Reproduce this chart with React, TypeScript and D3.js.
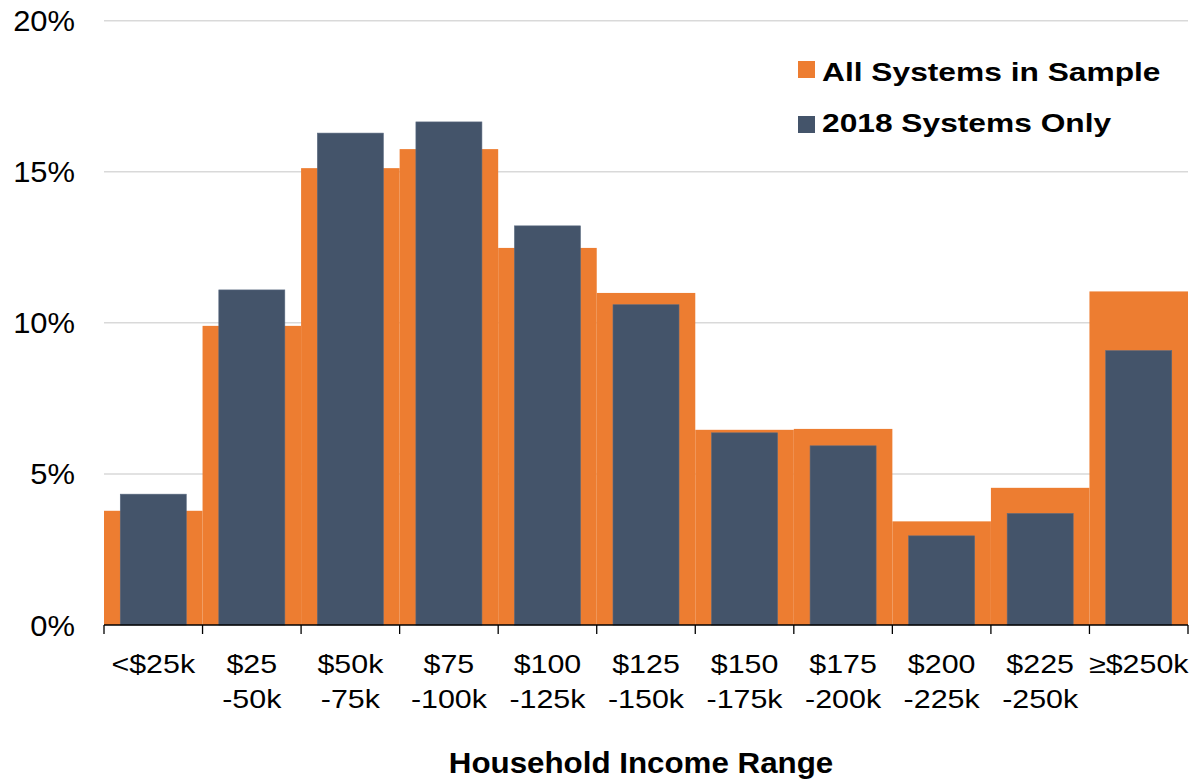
import React from "react";
import * as d3 from "d3";

const categories = [
  ["<$25k"],
  ["$25", "-50k"],
  ["$50k", "-75k"],
  ["$75", "-100k"],
  ["$100", "-125k"],
  ["$125", "-150k"],
  ["$150", "-175k"],
  ["$175", "-200k"],
  ["$200", "-225k"],
  ["$225", "-250k"],
  ["≥$250k"],
];
const allSystems = [3.78, 9.9, 15.12, 15.75, 12.48, 10.99, 6.46, 6.49, 3.43, 4.54, 11.04];
const systems2018 = [4.33, 11.09, 16.28, 16.65, 13.21, 10.6, 6.36, 5.93, 2.95, 3.69, 9.08];
const yTicks = [0, 5, 10, 15, 20];
const seriesNames = ["All Systems in Sample", "2018 Systems Only"];
const colors = ["#ED7D31", "#44546A"];

function SText(props: { x: number; y: number; sx: number; size: number; anchor?: string; bold?: boolean; children: React.ReactNode }) {
  return (
    <text
      transform={`translate(${props.x},${props.y}) scale(${props.sx},1)`}
      textAnchor={props.anchor || "start"}
      fontSize={props.size}
      fontWeight={props.bold ? "bold" : "normal"}
      fill="#000"
    >
      {props.children}
    </text>
  );
}

export default function App() {
  const W = 1193, H = 782;
  const left = 104, right = 1188, top = 20.7, bottom = 625;
  const x = d3.scaleBand<number>().domain(d3.range(categories.length)).range([left, right]).padding(0);
  const y = d3.scaleLinear().domain([0, 20]).range([bottom, top]);
  const bw = x.bandwidth();
  const innerW = 66;
  const font = "Liberation Sans, Arial, sans-serif";
  return (
    <svg width={W} height={H} style={{ position: "absolute", left: 0, top: 0 }} fontFamily={font}>
      {yTicks.map((t) => (
        <g key={t}>
          {t > 0 && <line x1={left} x2={right} y1={y(t)} y2={y(t)} stroke="#d9d9d9" strokeWidth={1.5} />}
          <SText x={75} y={y(t) + 10.5} sx={1.03} size={30} anchor="end">{t}%</SText>
        </g>
      ))}
      {allSystems.map((v, i) => (
        <rect key={"a" + i} x={x(i)!} y={y(v)} width={bw} height={bottom - y(v)} fill={colors[0]} />
      ))}
      {systems2018.map((v, i) => (
        <rect key={"b" + i} x={x(i)! + (bw - innerW) / 2} y={y(v)} width={innerW} height={bottom - y(v)} fill={colors[1]} stroke="#5a6a80" strokeWidth={0.6} />
      ))}
      <line x1={left} x2={right} y1={bottom} y2={bottom} stroke="#000" strokeWidth={1.3} />
      {d3.range(categories.length + 1).map((i) => {
        const xx = left + i * bw;
        return <line key={"t" + i} x1={xx} x2={xx} y1={bottom} y2={bottom + 9} stroke="#000" strokeWidth={1.3} />;
      })}
      {categories.map((lines, i) => (
        <g key={"c" + i}>
          {lines.map((l, j) => (
            <SText key={j} x={x(i)! + bw / 2} y={673 + j * 35} sx={1.17} size={26} anchor="middle">{l}</SText>
          ))}
        </g>
      ))}
      <SText x={641} y={773} sx={1.08} size={29} anchor="middle" bold>Household Income Range</SText>
      {seriesNames.map((n, i) => (
        <g key={n}>
          <rect x={798} y={61 + i * 55} width={17} height={17} fill={colors[i]} />
          <SText x={822} y={81 + i * 51} sx={1.22} size={26} bold>{n}</SText>
        </g>
      ))}
    </svg>
  );
}
